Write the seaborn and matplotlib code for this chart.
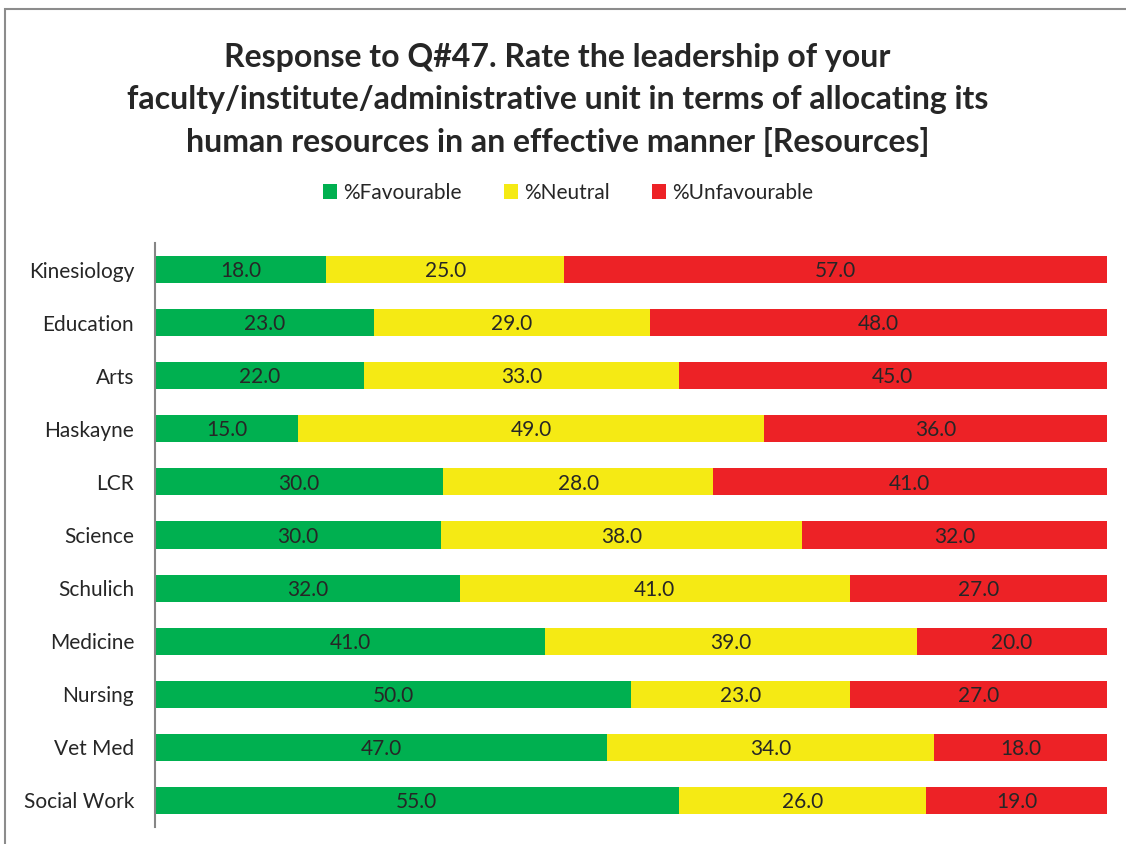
import numpy as np
import pandas as pd
import matplotlib
matplotlib.use('Agg')
import matplotlib.pyplot as plt
from matplotlib.patches import Rectangle, Patch
import seaborn as sns

# Data
units = ['Kinesiology', 'Education', 'Arts', 'Haskayne', 'LCR', 'Science',
         'Schulich', 'Medicine', 'Nursing', 'Vet Med', 'Social Work']
favourable = [18.0, 23.0, 22.0, 15.0, 30.0, 30.0, 32.0, 41.0, 50.0, 47.0, 55.0]
neutral = [25.0, 29.0, 33.0, 49.0, 28.0, 38.0, 41.0, 39.0, 23.0, 34.0, 26.0]
unfavourable = [57.0, 48.0, 45.0, 36.0, 41.0, 32.0, 27.0, 20.0, 27.0, 18.0, 19.0]

series = ['%Favourable', '%Neutral', '%Unfavourable']
colors = ['#00B050', '#F5EA14', '#ED2226']

sns.set_theme(style='white')
plt.rcParams['font.family'] = ['Lato', 'DejaVu Sans']

df = pd.DataFrame({'unit': units, 'fav': favourable, 'neu': neutral, 'unf': unfavourable})
tot = df[['fav', 'neu', 'unf']].sum(axis=1)
# 100% stacked: normalise each row
df['c1'] = df['fav'] / tot * 100
df['c2'] = (df['fav'] + df['neu']) / tot * 100
df['c3'] = 100.0

fig = plt.figure(figsize=(11.26, 8.44), dpi=100)
ax = fig.add_axes([155 / 1126, 1 - 827 / 844, (1107 - 155) / 1126, (827 - 243) / 844])

# overlay cumulative bars (largest first)
for col, c in zip(['c3', 'c2', 'c1'], colors[::-1]):
    sns.barplot(data=df, x=col, y='unit', order=units, color=c, width=0.51,
                orient='h', ax=ax, saturation=1, linewidth=0)

# segment labels
starts = [np.zeros(len(df)), df['c1'].values, df['c2'].values]
ends = [df['c1'].values, df['c2'].values, df['c3'].values]
raw = [df['fav'].values, df['neu'].values, df['unf'].values]
for s, e, r in zip(starts, ends, raw):
    for i in range(len(df)):
        ax.text((s[i] + e[i]) / 2, i + 0.03, f'{r[i]:.1f}', ha='center', va='center',
                fontsize=15, color='#262626')

ax.set_xlim(0, 100)
ax.set_ylim(len(units) - 0.5, -0.5)
ax.set_xlabel('')
ax.set_ylabel('')
ax.set_xticks([])
ax.tick_params(axis='y', length=0, labelsize=15, labelcolor='#262626', pad=15)
for sp in ['top', 'right', 'bottom']:
    ax.spines[sp].set_visible(False)
ax.spines['left'].set_color('#868686')
ax.spines['left'].set_linewidth(1.5)

fig.text(0.495, 1 - 100 / 844,
         'Response to Q#47. Rate the leadership of your\n'
         'faculty/institute/administrative unit in terms of allocating its\n'
         'human resources in an effective manner [Resources]',
         ha='center', va='center', fontsize=23, fontweight='bold',
         color='#262626', linespacing=1.55)

handles = [Patch(facecolor=c, edgecolor='none') for c in colors]
fig.legend(handles, series, loc='center', bbox_to_anchor=(0.5045, 1 - 193 / 844),
           ncol=3, frameon=False, fontsize=15, handlelength=0.7, handleheight=0.7,
           handletextpad=0.3, columnspacing=2.0, labelcolor='#262626')

# chart border (left/top visible)
fig.patches.append(Rectangle((5 / 1126, -0.1), 1.2, 1.1 - 9 / 844, transform=fig.transFigure,
                             fill=False, edgecolor='#8c8c8c', linewidth=1.5))

fig.savefig('out.png', dpi=100)
